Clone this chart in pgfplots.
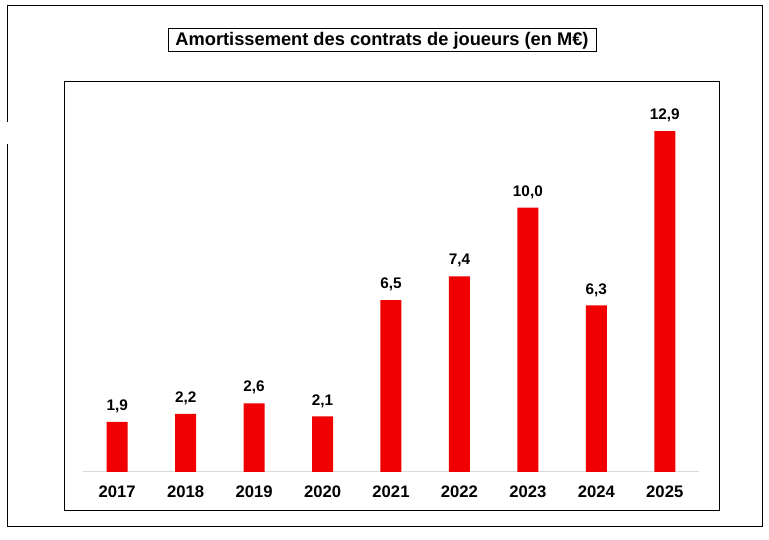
\documentclass[border=0pt]{standalone}
\usepackage{pgfplots}
\pgfplotsset{compat=1.18}
\usepackage{fontspec}
\setmainfont{Liberation Sans}
\definecolor{barred}{RGB}{240,0,0}
\begin{document}
\begin{tikzpicture}
	% page size and frames (1 px = 0.75pt)
	\path (0pt,0pt) rectangle (576.75pt,405pt);
	\draw[line width=0.75pt] (5.25pt,313.5pt) -- (5.25pt,400.5pt) -- (571.5pt,400.5pt)
		-- (571.5pt,9.75pt) -- (5.25pt,9.75pt) -- (5.25pt,297pt);
	\draw[line width=0.75pt] (48pt,21.75pt) rectangle (539.25pt,343.5pt);
	\draw[line width=0.75pt] (126pt,366pt) rectangle (447pt,383.25pt);
	\node[font=\fontsize{13.7}{15}\selectfont\bfseries] at (286.5pt,374.6pt) {Amortissement des contrats de joueurs (en M€)};
	\begin{axis}[
	scale only axis,
	width=462pt, height=277.5pt,
	at={(62.25pt,51pt)}, anchor=south west,
	xmin=-0.5, xmax=8.5,
	ymin=0, ymax=14,
	axis x line=bottom,
	axis y line=none,
	x axis line style={draw=black!15, line width=0.75pt, -},
	xtick=data,
	xticklabels={2017,2018,2019,2020,2021,2022,2023,2024,2025},
	xtick style={draw=none},
	xticklabel style={font=\fontsize{12.5}{14}\selectfont\bfseries, anchor=base, yshift=-15pt},
	ybar, bar width=15.75pt,
	nodes near coords,
	every node near coord/.append style={font=\fontsize{11.5}{13}\selectfont\bfseries, anchor=base, inner sep=0pt, yshift=8.6pt},
	/pgf/number format/.cd, use comma, fixed, fixed zerofill, precision=1, assume math mode=true]
	\addplot[fill=barred, draw=none] coordinates {
		(0,1.9)
		(1,2.2)
		(2,2.6)
		(3,2.1)
		(4,6.5)
		(5,7.4)
		(6,10.0)
		(7,6.3)
		(8,12.9)
	};
	\end{axis}
\end{tikzpicture}
\end{document}
